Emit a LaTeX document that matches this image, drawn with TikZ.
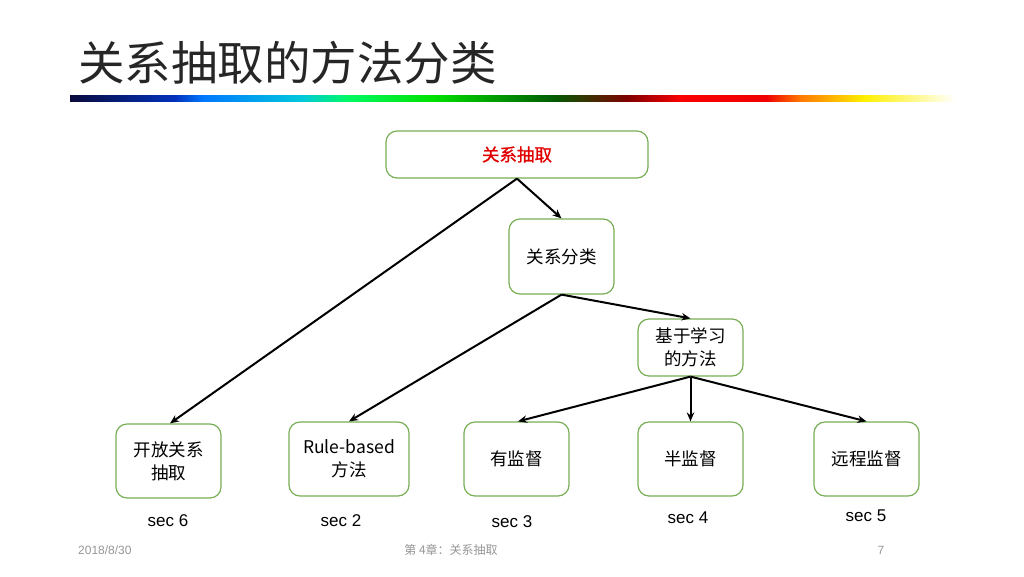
\documentclass[tikz,border=0pt]{standalone}
\usepackage{fontspec}
\setmainfont{Liberation Sans}
\newfontfamily\cjk{Noto Sans CJK SC}
\newfontfamily\cjkmed[FakeBold=1.2]{Noto Sans CJK SC}
\usetikzlibrary{arrows.meta}
\definecolor{boxgreen}{RGB}{120,175,85}
\definecolor{footgray}{RGB}{150,150,150}
\definecolor{rootred}{RGB}{225,0,0}
\tikzset{
  box/.style={draw=boxgreen, line width=1.2pt, rounded corners=11pt, fill=white,
    inner sep=0pt, align=center, font=\cjk\fontsize{17.5}{23}\selectfont},
  conn/.style={line width=2pt, -{Stealth[length=9pt,width=7.5pt]}},
  seclab/.style={font=\fontsize{17}{20}\selectfont, inner sep=0pt},
  foot/.style={text=footgray, font=\fontsize{12}{14}\selectfont, inner sep=0pt}
}
\begin{document}
\begin{tikzpicture}[x=1pt,y=-1pt]
\useasboundingbox (0,0) rectangle (1024,576);
\fill[white] (0,0) rectangle (1024,576);
% title
\node[anchor=west, inner sep=0pt, text=black!85, font=\cjk\fontsize{46.5}{52}\selectfont] (title) at (78,63) {关系抽取的方法分类};
% gradient bar
\definecolor{g0}{RGB}{10,10,60}
\definecolor{g1}{RGB}{0,50,190}
\definecolor{g2}{RGB}{0,120,255}
\definecolor{g3}{RGB}{0,200,220}
\definecolor{g4}{RGB}{0,250,100}
\definecolor{g5}{RGB}{0,225,0}
\definecolor{g6}{RGB}{0,90,0}
\definecolor{g7}{RGB}{130,0,0}
\definecolor{g8}{RGB}{250,0,0}
\definecolor{g9}{RGB}{240,0,0}
\definecolor{g10}{RGB}{255,120,0}
\definecolor{g11}{RGB}{255,240,0}
\definecolor{g12}{RGB}{255,255,255}
\shade[left color=g0,right color=g1] (70,95) rectangle (175.5,101);
\shade[left color=g1,right color=g2] (175,95) rectangle (203.5,101);
\shade[left color=g2,right color=g3] (203,95) rectangle (301.5,101);
\shade[left color=g3,right color=g4] (301,95) rectangle (347.5,101);
\shade[left color=g4,right color=g5] (347,95) rectangle (433.5,101);
\shade[left color=g5,right color=g6] (433,95) rectangle (554.5,101);
\shade[left color=g6,right color=g7] (554,95) rectangle (628.5,101);
\shade[left color=g7,right color=g8] (628,95) rectangle (680.5,101);
\shade[left color=g8,right color=g9] (680,95) rectangle (766.5,101);
\shade[left color=g9,right color=g10] (766,95) rectangle (800.5,101);
\shade[left color=g10,right color=g11] (800,95) rectangle (864.5,101);
\shade[left color=g11,right color=g12] (864,95) rectangle (955,101);
% nodes
\node[box, minimum width=262pt, minimum height=47pt, text=rootred, font=\cjkmed\fontsize{17.5}{23}\selectfont] (root) at (517,154.5) {关系抽取};
\node[box, minimum width=105pt, minimum height=75pt] (cls) at (561.5,256.5) {关系分类};
\node[box, minimum width=105pt, minimum height=57pt] (learn) at (690.5,347.5) {基于学习\\的方法};
\node[box, minimum width=105pt, minimum height=74pt] (open) at (168.5,461) {开放关系\\抽取};
\node[box, minimum width=120pt, minimum height=74pt] (rule) at (349,459) {Rule-based\\方法};
\node[box, minimum width=105pt, minimum height=74pt] (sup) at (516.5,459) {有监督};
\node[box, minimum width=105pt, minimum height=74pt] (semi) at (690.5,459) {半监督};
\node[box, minimum width=105pt, minimum height=74pt] (dist) at (866.5,459) {远程监督};
% connectors
\draw[conn] (root.south) -- (cls.north);
\draw[conn] (root.south) -- ([xshift=1.5pt]open.north);
\draw[conn] (cls.south) -- (learn.north);
\draw[conn] (cls.south) -- (rule.north);
\draw[conn] (learn.south) -- ([xshift=1.5pt]sup.north);
\draw[conn] (learn.south) -- (semi.north);
\draw[conn] (learn.south) -- (dist.north);
% section labels
\node[seclab] (s6) at (168,521) {sec 6};
\node[seclab] (s2) at (341,521) {sec 2};
\node[seclab] (s3) at (512,522) {sec 3};
\node[seclab] (s4) at (688,518) {sec 4};
\node[seclab] (s5) at (866,516) {sec 5};
% footer
\node[foot, anchor=west] (date) at (78,550) {2018/8/30};
\node[foot] (chap) at (451,550) {\cjk 第 4章：关系抽取};
\node[foot] (page) at (881,550) {7};
\end{tikzpicture}
\end{document}
